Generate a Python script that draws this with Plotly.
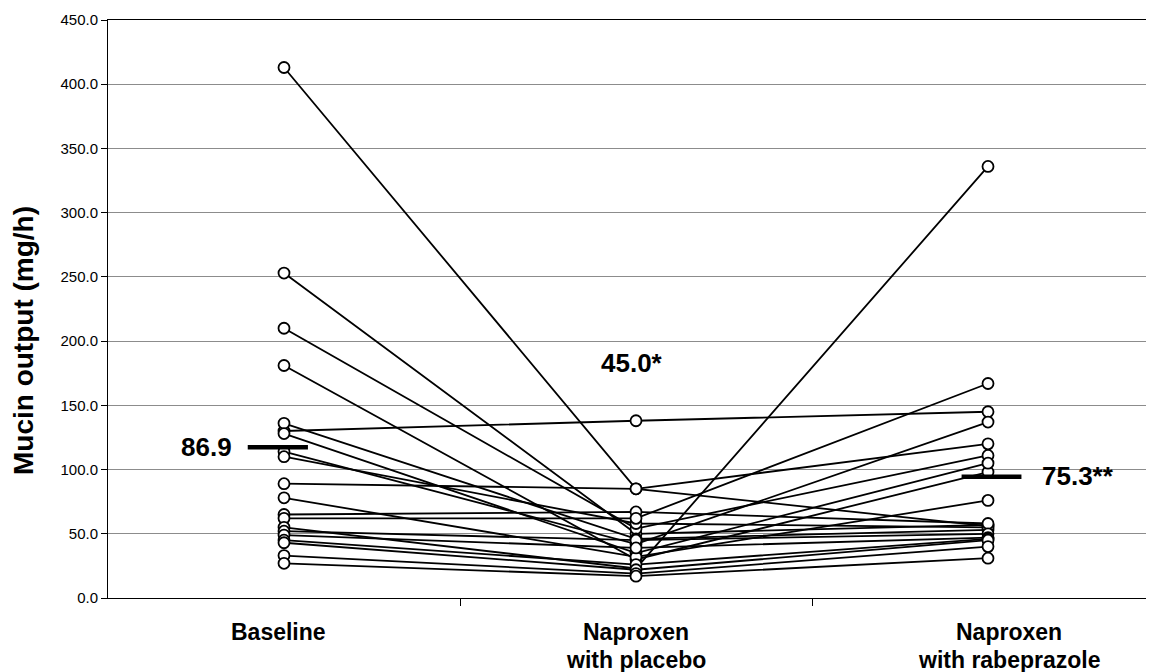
import plotly.graph_objects as go

# ---- data ----
categories = ["Baseline", "Naproxen<br>with placebo", "Naproxen<br>with rabeprazole"]
baseline = [413, 130, 89, 253, 210, 181, 136, 128, 114, 110, 78, 65, 62, 55, 52, 49, 45, 43, 33, 27]
placebo = [85, 138, 85, 50, 54, 30, 46, 35, 42, 58, 32, 67, 62, 23, 45, 39, 26, 22, 19, 17]
rabeprazole = [56, 145, 120, 57, 111, 98, 53, 105, 137, 55, 76, 58, 167, 336, 50, 47, 46, 45, 40, 31]
mean_bars = [117.3, None, 94.4]
value_labels = ["86.9", "45.0*", "75.3**"]
value_label_y = [117.3, 183, 95]
y_ticks = [0, 50, 100, 150, 200, 250, 300, 350, 400, 450]
y_ticktext = ["%.1f" % v for v in y_ticks]
y_title = "Mucin output (mg/h)"

FONT = "Arial, 'Liberation Sans', sans-serif"

fig = go.Figure()

xs = [0, 1, 2]
for b, p, r in zip(baseline, placebo, rabeprazole):
    fig.add_trace(go.Scatter(
        x=xs, y=[b, p, r], mode="lines+markers",
        line=dict(color="black", width=1.8),
        marker=dict(symbol="circle", size=11, color="white",
                    line=dict(color="black", width=1.8)),
        showlegend=False, hoverinfo="skip"))

# mean bars
bar_offsets = [(-0.103, 0.068), None, (-0.075, 0.095)]
for i, (m, off) in enumerate(zip(mean_bars, bar_offsets)):
    if m is None:
        continue
    fig.add_trace(go.Scatter(
        x=[i + off[0], i + off[1]], y=[m, m], mode="lines",
        line=dict(color="black", width=4.5),
        showlegend=False, hoverinfo="skip"))

# value labels
label_pos = [dict(xanchor="right", xshift=-50), dict(xanchor="center", xshift=-4),
             dict(xanchor="left", xshift=52)]
for i, (txt, yv, pos) in enumerate(zip(value_labels, value_label_y, label_pos)):
    fig.add_annotation(x=i, y=yv, xref="x", yref="y", text="<b>%s</b>" % txt,
                       showarrow=False, yanchor="middle",
                       font=dict(family=FONT, size=26, color="black"), **pos)

# category labels (one annotation per text line)
cat_shift = [-6, 0, 21]
for i, (c, s) in enumerate(zip(categories, cat_shift)):
    for k, line in enumerate(c.split("<br>")):
        fig.add_annotation(x=i, y=0, xref="x", yref="paper", text="<b>%s</b>" % line,
                           showarrow=False, xanchor="center", yanchor="top",
                           xshift=s, yshift=-19 - 28 * k, align="center",
                           font=dict(family=FONT, size=23, color="black"))

# y-axis title
fig.add_annotation(x=0, y=0.5, xref="paper", yref="paper", text="<b>%s</b>" % y_title,
                   textangle=-90, showarrow=False, xanchor="center", yanchor="middle",
                   xshift=-85, yshift=-32,
                   font=dict(family=FONT, size=28, color="black"))

fig.update_layout(
    width=1146, height=664,
    margin=dict(l=100, r=0, t=12, b=74, autoexpand=False),
    paper_bgcolor="white", plot_bgcolor="white",
    font=dict(family=FONT, color="black"),
    xaxis=dict(range=[-0.5, 2.4716], showgrid=False, zeroline=False,
               showline=True, linecolor="black", linewidth=1, mirror=True,
               tickvals=[], ticks="", automargin=False,
               minor=dict(tickmode="array", tickvals=[0.5, 1.5], ticks="outside",
                          ticklen=7, tickcolor="black", tickwidth=1, showgrid=False)),
    yaxis=dict(range=[0, 450], tickvals=y_ticks, ticktext=y_ticktext,
               showgrid=True, gridcolor="#8c8c8c", gridwidth=1, zeroline=False,
               showline=True, linecolor="black", linewidth=1, automargin=False,
               ticks="outside", ticklen=6, tickcolor="black",
               tickfont=dict(family=FONT, size=15, color="black")),
)

fig.write_html("out.html")
